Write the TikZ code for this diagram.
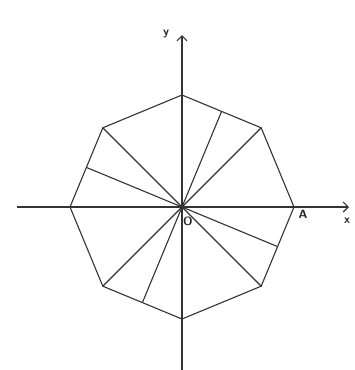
\documentclass[tikz,border=0pt]{standalone}
\usetikzlibrary{arrows.meta,calc}
\begin{document}
\begin{tikzpicture}[x=1pt,y=-1pt,
  ln/.style={draw=black!80,line width=1.1pt,line join=miter},
  ax/.style={draw=black!80,line width=1.1pt,-{Straight Barb[length=5pt,width=10pt]}},
  lbl/.style={font=\sffamily\bfseries\large,text=black!85,inner sep=0pt}]
\useasboundingbox (0,0) rectangle (355,370);
\coordinate (O) at (182,207);
\foreach \i in {0,...,7}{
  \coordinate (v\i) at ($(O)+({112*cos(45*\i)},{-112*sin(45*\i)})$);
}
\foreach \a/\n in {67.5/ma,157.5/mb,247.5/mc,337.5/md}{
  \coordinate (\n) at ($(O)+({103.5*cos(\a)},{-103.5*sin(\a)})$);
}
\coordinate (xl) at (17,207);
\coordinate (xr) at (349,207);
\coordinate (yb) at (182,370);
\coordinate (yt) at (182,35);
\draw[ax] (xl) -- (xr);
\draw[ax] (yb) -- (yt);
\draw[ln] (v0)--(v1)--(v2)--(v3)--(v4)--(v5)--(v6)--(v7)--cycle;
\foreach \p in {v1,ma,v3,mb,v5,mc,v7,md}{
  \draw[ln] (O) -- (\p);
}
\node[lbl] (ylab) at (166,34) {y};
\node[lbl] (xlab) at (347,221) {x};
\node[lbl] (olab) at (188,221) {O};
\node[lbl] (alab) at (303,214) {A};
\end{tikzpicture}
\end{document}
